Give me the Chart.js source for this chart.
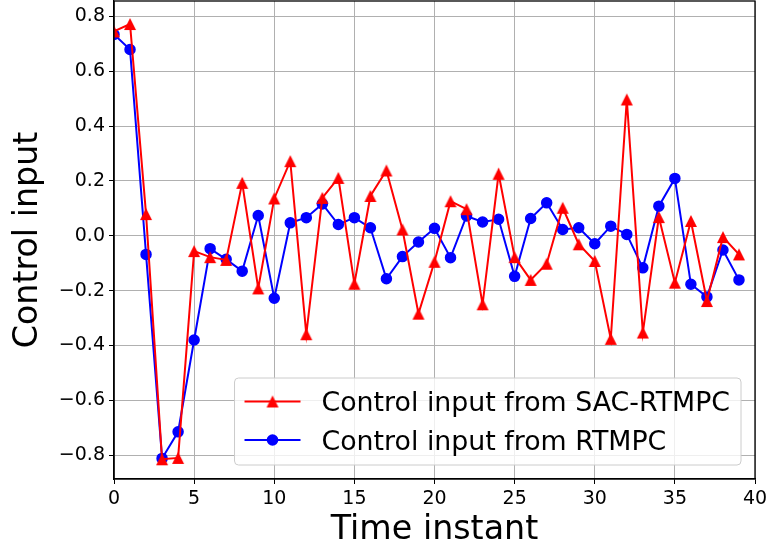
<!DOCTYPE html>
<html>
<head>
<meta charset="utf-8">
<script src="https://cdn.jsdelivr.net/npm/chart.js@4.4.1/dist/chart.umd.min.js"></script>
<style>
  html, body { margin: 0; padding: 0; background: #fff; }
</style>
</head>
<body>
<canvas id="chart" width="767" height="552"></canvas>
<script>
// data
var timeSteps = [0, 1, 2, 3, 4, 5, 6, 7, 8, 9, 10, 11, 12, 13, 14, 15, 16, 17, 18, 19,
                 20, 21, 22, 23, 24, 25, 26, 27, 28, 29, 30, 31, 32, 33, 34, 35, 36, 37, 38, 39];
var sacRtmpc = [0.745, 0.772, 0.079, -0.815, -0.81, -0.056, -0.078, -0.088, 0.193, -0.192,
                0.136, 0.272, -0.359, 0.138, 0.211, -0.175, 0.145, 0.238, 0.023, -0.284,
                -0.095, 0.126, 0.097, -0.25, 0.226, -0.078, -0.161, -0.102, 0.102, -0.031,
                -0.092, -0.376, 0.497, -0.353, 0.068, -0.171, 0.054, -0.238, -0.005, -0.068];
var rtmpc = [0.734, 0.679, -0.068, -0.812, -0.715, -0.38, -0.047, -0.086, -0.129, 0.074,
             -0.228, 0.047, 0.066, 0.116, 0.041, 0.066, 0.029, -0.157, -0.076, -0.023,
             0.027, -0.080, 0.072, 0.050, 0.060, -0.148, 0.063, 0.120, 0.023, 0.029,
             -0.029, 0.035, 0.005, -0.117, 0.108, 0.209, -0.177, -0.223, -0.052, -0.161];
var xTicks = [0, 5, 10, 15, 20, 25, 30, 35, 40];
var yTicks = [-0.8, -0.6, -0.4, -0.2, 0.0, 0.2, 0.4, 0.6, 0.8];
var seriesNames = ['Control input from SAC-RTMPC', 'Control input from RTMPC'];

var FONT = "'DejaVu Sans', sans-serif";

// matplotlib style '^' marker (as wide as it is tall)
function makeTriangle(size, color) {
    var c = document.createElement('canvas');
    c.width = size + 2;
    c.height = size + 2;
    var g = c.getContext('2d');
    g.fillStyle = color;
    g.beginPath();
    g.moveTo(1 + size / 2, 1);
    g.lineTo(1, 1 + size);
    g.lineTo(1 + size, 1 + size);
    g.closePath();
    g.fill();
    return c;
}
var redTriangle = makeTriangle(12, '#ff0000');

function toPoints(ys) {
    return ys.map(function(y, i) { return { x: timeSteps[i], y: y }; });
}

function fmtY(v) {
    if (Math.abs(v) < 1e-9) return '0.0';
    return (v < 0 ? '\u2212' : '') + Math.abs(v).toFixed(1);
}

// top/right spines plus the legend box inside the axes
var frameAndLegend = {
    id: 'frameAndLegend',
    afterDatasetsDraw: function(chart) {
        var ctx = chart.ctx;
        var a = chart.chartArea;
        ctx.save();
        ctx.strokeStyle = '#000';
        ctx.lineWidth = 1.3;
        ctx.strokeRect(a.left, a.top, a.right - a.left, a.bottom - a.top);

        ctx.font = '26.8px ' + FONT;
        var maxW = 0;
        seriesNames.forEach(function(n) { maxW = Math.max(maxW, ctx.measureText(n).width); });
        var boxW = 10 + 56 + 21 + maxW + 11;
        var boxH = 87;
        var bx = a.right - 14 - boxW;
        var by = a.bottom - 14 - boxH;

        ctx.beginPath();
        if (ctx.roundRect) ctx.roundRect(bx, by, boxW, boxH, 4); else ctx.rect(bx, by, boxW, boxH);
        ctx.fillStyle = 'rgba(255,255,255,0.8)';
        ctx.fill();
        ctx.strokeStyle = '#cccccc';
        ctx.lineWidth = 1;
        ctx.stroke();

        var rows = [
            { y: by + 23.5, color: '#ff0000', style: 'tri' },
            { y: by + 62, color: '#0000ff', style: 'circle' }
        ];
        rows.forEach(function(r, i) {
            ctx.strokeStyle = r.color;
            ctx.lineWidth = 2;
            ctx.beginPath();
            ctx.moveTo(bx + 10, r.y);
            ctx.lineTo(bx + 66, r.y);
            ctx.stroke();
            if (r.style === 'tri') {
                ctx.drawImage(redTriangle, bx + 38 - redTriangle.width / 2, r.y - redTriangle.height / 2);
            } else {
                ctx.fillStyle = r.color;
                ctx.beginPath();
                ctx.arc(bx + 38, r.y, 5.8, 0, Math.PI * 2);
                ctx.fill();
            }
            ctx.fillStyle = '#000';
            ctx.textBaseline = 'alphabetic';
            ctx.textAlign = 'left';
            ctx.fillText(seriesNames[i], bx + 87, r.y + 9.7);
        });
        ctx.restore();
    }
};

var ctx = document.getElementById('chart').getContext('2d');
var chart = new Chart(ctx, {
    type: 'line',
    data: {
        datasets: [{
            label: seriesNames[0],
            data: toPoints(sacRtmpc),
            borderColor: '#ff0000',
            backgroundColor: '#ff0000',
            borderWidth: 2,
            pointStyle: redTriangle,
            tension: 0,
            fill: false
        }, {
            label: seriesNames[1],
            data: toPoints(rtmpc),
            borderColor: '#0000ff',
            backgroundColor: '#0000ff',
            borderWidth: 2,
            pointStyle: 'circle',
            pointRadius: 5,
            pointBorderWidth: 1.5,
            pointBorderColor: '#0000ff',
            tension: 0,
            fill: false
        }]
    },
    options: {
        responsive: false,
        animation: false,
        devicePixelRatio: 1,
        layout: { autoPadding: false, padding: { top: 1, right: 12, left: 0, bottom: 0 } },
        plugins: {
            legend: { display: false },
            tooltip: { enabled: false }
        },
        scales: {
            x: {
                type: 'linear',
                min: 0,
                max: 40,
                afterBuildTicks: function(s) { s.ticks = xTicks.map(function(v) { return { value: v }; }); },
                afterFit: function(s) { s.height = 73; s.paddingLeft = 0; s.paddingRight = 0; },
                grid: { color: '#b0b0b0', lineWidth: 1, tickColor: '#000', tickLength: 5, drawTicks: true },
                border: { display: true, color: '#000', width: 1.3 },
                ticks: {
                    autoSkip: false, maxRotation: 0, padding: 4, color: '#000',
                    font: { family: FONT, size: 19 },
                    callback: function(v) { return String(v); }
                },
                title: {
                    display: true, text: 'Time instant', color: '#000',
                    font: { family: FONT, size: 33.3 }, padding: { top: 0, bottom: 2 }
                }
            },
            y: {
                type: 'linear',
                min: -0.887,
                max: 0.856,
                afterBuildTicks: function(s) { s.ticks = yTicks.map(function(v) { return { value: v }; }); },
                afterFit: function(s) { s.width = 114; s.paddingTop = 0; s.paddingBottom = 0; },
                grid: { color: '#b0b0b0', lineWidth: 1, tickColor: '#000', tickLength: 5, drawTicks: true },
                border: { display: true, color: '#000', width: 1.3 },
                ticks: {
                    autoSkip: false, padding: 4, color: '#000',
                    font: { family: FONT, size: 19 },
                    callback: function(v) { return fmtY(v); }
                },
                title: {
                    display: true, text: 'Control input', color: '#000',
                    font: { family: FONT, size: 33.3 }, padding: { top: 8, bottom: 0 }
                }
            }
        }
    },
    plugins: [frameAndLegend]
});
</script>
</body>
</html>
